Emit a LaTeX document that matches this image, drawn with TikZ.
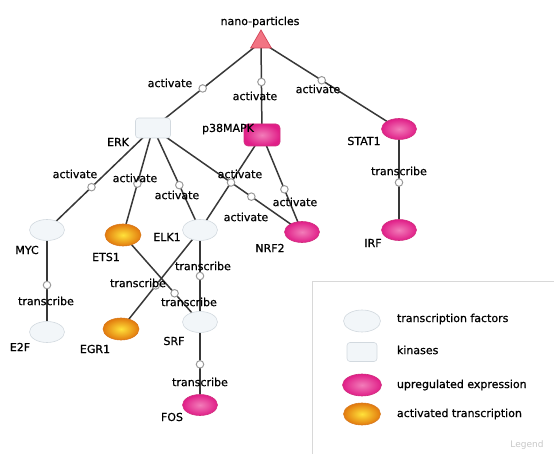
\documentclass[tikz,border=0pt]{standalone}
\usepackage{fontspec}
\setmainfont{DejaVu Sans}
\newfontfamily\labfont{DejaVu Sans}[FakeBold=0.7]
\usetikzlibrary{shapes.geometric,backgrounds}
\definecolor{edgec}{HTML}{383838}
\definecolor{circc}{HTML}{9A9A9A}
\definecolor{tffill}{HTML}{F2F6F9}
\definecolor{tfdraw}{HTML}{D2D9DF}
\definecolor{magout}{HTML}{E01E88}
\definecolor{magin}{HTML}{F27DB9}
\definecolor{magdraw}{HTML}{D0307E}
\definecolor{orout}{HTML}{E27A0E}
\definecolor{orin}{HTML}{FFE23A}
\definecolor{ordraw}{HTML}{D87A20}
\definecolor{trifill}{HTML}{F27483}
\definecolor{tridraw}{HTML}{D24458}
\definecolor{legdraw}{HTML}{D8D8D8}
\begin{document}
\begin{tikzpicture}[x=1pt,y=-1pt,
  font=\labfont\fontsize{11}{12}\selectfont,
  every node/.style={inner sep=0pt, outer sep=0pt},
  tf/.style={ellipse, minimum width=35pt, minimum height=21pt, draw=tfdraw, fill=tffill, line width=0.6pt},
  kin/.style={rectangle, rounded corners=3pt, minimum width=35pt, minimum height=20pt, draw=tfdraw, fill=tffill, line width=0.6pt},
  up/.style={ellipse, minimum width=35pt, minimum height=21pt, draw=magdraw, inner color=magin, outer color=magout, line width=0.6pt},
  kinup/.style={rectangle, rounded corners=4pt, minimum width=36pt, minimum height=22pt, draw=magdraw, inner color=magin, outer color=magout, line width=0.6pt},
  act/.style={ellipse, minimum width=36pt, minimum height=22pt, draw=ordraw, inner color=orin, outer color=orout, line width=0.6pt},
  tri/.style={regular polygon, regular polygon sides=3, minimum size=24pt, draw=tridraw, fill=trifill, line width=0.7pt},
  edge/.style={draw=edgec, line width=1.5pt},
  circ/.style={circle, minimum size=7.5pt, draw=circc, fill=white, line width=1pt},
  lab/.style={text=black, anchor=center},
]
\useasboundingbox (0,0) rectangle (554,454);
\clip (0,0) rectangle (554,454);

% ---- nodes ----
\node[tri] (nano) at (261,42) {};
\node[kin] (ERK) at (153,128) {};
\node[kinup] (p38) at (262,135) {};
\node[up] (STAT1) at (399,129) {};
\node[up] (IRF) at (399,230) {};
\node[tf] (MYC) at (47,230) {};
\node[act] (ETS1) at (123,235) {};
\node[tf] (ELK1) at (200,230) {};
\node[up] (NRF2) at (302,232) {};
\node[tf] (E2F) at (47,332) {};
\node[act] (EGR1) at (121,329) {};
\node[tf] (SRF) at (200,322) {};
\node[up] (FOS) at (200,405) {};

% ---- connectors ----
\begin{scope}[on background layer]
\draw[edge] (nano.center) -- node[circ,pos=0.54] (c1) {} (ERK.center);
\draw[edge] (nano.center) -- node[circ,pos=0.43] (c2) {} (p38.center);
\draw[edge] (nano.center) -- node[circ,pos=0.44] (c3) {} (STAT1.center);
\draw[edge] (ERK.center) -- node[circ,pos=0.58] (c4) {} (MYC.center);
\draw[edge] (ERK.center) -- node[circ,pos=0.52] (c5) {} (ETS1.center);
\draw[edge] (ERK.center) -- node[circ,pos=0.56] (c6) {} (ELK1.center);
\draw[edge] (ERK.center) -- node[circ,pos=0.66] (c7) {} (NRF2.center);
\draw[edge] (p38.center) -- node[circ,pos=0.5] (c8) {} (ELK1.center);
\draw[edge] (p38.center) -- node[circ,pos=0.56] (c9) {} (NRF2.center);
\draw[edge] (STAT1.center) -- node[circ,pos=0.53] (c10) {} (IRF.center);
\draw[edge] (MYC.center) -- node[circ,pos=0.54] (c11) {} (E2F.center);
\draw[edge] (ELK1.center) -- node[circ,pos=0.5] (c12) {} (SRF.center);
\draw[edge] (ELK1.center) -- node[circ,pos=0.56] (c13) {} (EGR1.center);
\draw[edge] (ETS1.center) -- node[circ,pos=0.67] (c14) {} (SRF.center);
\draw[edge] (SRF.center) -- node[circ,pos=0.51] (c15) {} (FOS.center);
\end{scope}

% ---- node labels ----
\node[lab] (lnano) at (260,22) {nano-particles};
\node[lab] (lERK) at (118,142) {ERK};
\node[lab] (lp38) at (228,129) {p38MAPK};
\node[lab] (lSTAT1) at (364,141) {STAT1};
\node[lab] (lIRF) at (373,243) {IRF};
\node[lab] (lMYC) at (27,250) {MYC};
\node[lab] (lETS1) at (106,257) {ETS1};
\node[lab] (lELK1) at (167,237) {ELK1};
\node[lab] (lNRF2) at (270,248) {NRF2};
\node[lab] (lE2F) at (20,347) {E2F};
\node[lab] (lEGR1) at (95,349) {EGR1};
\node[lab] (lSRF) at (174,341) {SRF};
\node[lab] (lFOS) at (172,417) {FOS};

% ---- connector labels ----
\node[lab] (e1) at (170,83) {activate};
\node[lab] (e2) at (255,96) {activate};
\node[lab] (e3) at (318,89) {activate};
\node[lab] (e4) at (75,174) {activate};
\node[lab] (e5) at (135,178) {activate};
\node[lab] (e6) at (177,195) {activate};
\node[lab] (e7) at (246,217) {activate};
\node[lab] (e8) at (240,174) {activate};
\node[lab] (e9) at (295,202) {activate};
\node[lab] (e10) at (399,171) {transcribe};
\node[lab] (e11) at (46,301) {transcribe};
\node[lab] (e12) at (203,266) {transcribe};
\node[lab] (e13) at (138,283) {transcribe};
\node[lab] (e14) at (189,302) {transcribe};
\node[lab] (e15) at (200,382) {transcribe};

% ---- legend ----
\draw[legdraw, line width=0.8pt] (312,281) rectangle (600,500);
\node[tf, minimum width=37pt, minimum height=22pt] (gtf) at (362,321) {};
\node[kin, minimum width=30pt, minimum height=19pt] (gkin) at (362,352) {};
\node[up, minimum width=39pt, minimum height=22pt] (gup) at (362,385) {};
\node[act, minimum width=37pt, minimum height=22pt] (gact) at (362,414) {};
\node[lab, anchor=west] (ttf) at (397,319) {transcription factors};
\node[lab, anchor=west] (tkin) at (397,350) {kinases};
\node[lab, anchor=west] (tup) at (397,385) {upregulated expression};
\node[lab, anchor=west] (tact) at (397,414) {activated transcription};
\node[lab, text=black!22, font=\fontsize{9}{10}\selectfont] (tleg) at (527,445) {Legend};
\end{tikzpicture}
\end{document}
